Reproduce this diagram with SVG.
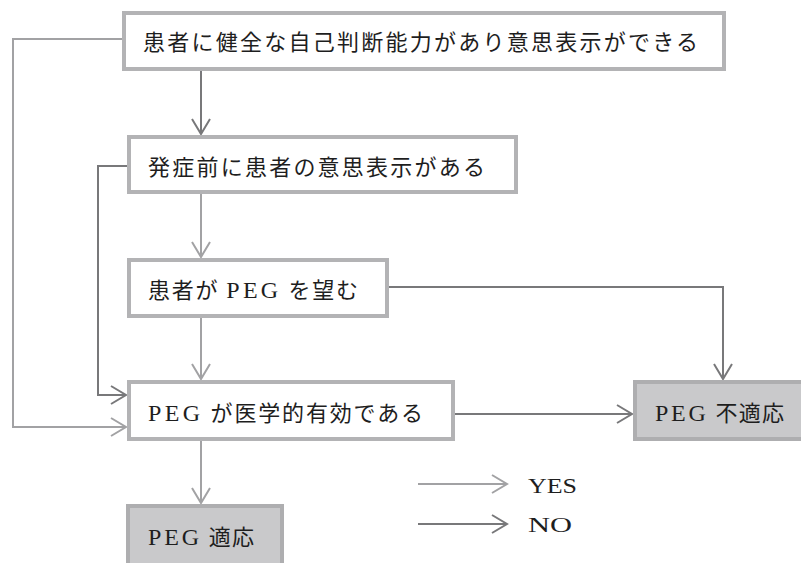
<svg xmlns="http://www.w3.org/2000/svg" width="801" height="563" viewBox="0 0 801 563">
<style>
.box{fill:#ffffff;stroke:#b3b3b5;stroke-width:4}
.term{fill:#c9c9cb;stroke:#aeaeb0;stroke-width:4}
.t{font-family:"Liberation Serif","Noto Sans CJK JP",serif;font-size:22px;fill:#1e1e1e}
.p{font-size:24px;letter-spacing:1.5px}
.yes{fill:none;stroke:#a2a2a4;stroke-width:2;marker-end:url(#ay)}
.no{fill:none;stroke:#78787a;stroke-width:2;marker-end:url(#an)}
</style>
<defs>
<marker id="ay" markerUnits="userSpaceOnUse" markerWidth="24" markerHeight="24" viewBox="-20 -12 24 24" refX="0" refY="0" orient="auto">
<path d="M-15,-9 L0,0 L-15,9" fill="none" stroke="#a2a2a4" stroke-width="2"/>
</marker>
<marker id="an" markerUnits="userSpaceOnUse" markerWidth="24" markerHeight="24" viewBox="-20 -12 24 24" refX="0" refY="0" orient="auto">
<path d="M-15,-9 L0,0 L-15,9" fill="none" stroke="#78787a" stroke-width="2"/>
</marker>
</defs>
<g id="connectors">
<path class="yes" d="M122,39 H13 V427 H126"/>
<path class="no" d="M201,71 V134"/>
<path class="no" d="M127,166 H98 V395 H126"/>
<path class="yes" d="M201,194 V257"/>
<path class="yes" d="M201,318 V379"/>
<path class="no" d="M389,287 H723 V379"/>
<path class="no" d="M455,414 H632"/>
<path class="yes" d="M201,441 V503"/>
</g>
<g id="n1">
<rect class="box" x="124" y="13" width="600" height="56"/>
<text class="t" x="143" y="50" textLength="555" lengthAdjust="spacing">患者に健全な自己判断能力があり意思表示ができる</text>
</g>
<g id="n2">
<rect class="box" x="129" y="137" width="387" height="55"/>
<text class="t" x="148" y="175" textLength="337" lengthAdjust="spacing">発症前に患者の意思表示がある</text>
</g>
<g id="n3">
<rect class="box" x="129" y="260" width="258" height="56"/>
<text class="t" x="148" y="298" textLength="210" lengthAdjust="spacing">患者が <tspan class="p">PEG</tspan> を望む</text>
</g>
<g id="n4">
<rect class="box" x="129" y="382" width="324" height="57"/>
<text class="t" x="148" y="421" textLength="275" lengthAdjust="spacing"><tspan class="p">PEG</tspan> が医学的有効である</text>
</g>
<g id="n5">
<rect class="term" x="635" y="382" width="172" height="57"/>
<text class="t" x="655" y="421" textLength="129" lengthAdjust="spacing"><tspan class="p">PEG</tspan> 不適応</text>
</g>
<g id="n6">
<rect class="term" x="128" y="506" width="154" height="70"/>
<text class="t" x="148" y="545" textLength="106" lengthAdjust="spacing"><tspan class="p">PEG</tspan> 適応</text>
</g>
<g id="legend">
<path class="yes" d="M418,484 H507"/>
<text class="t" x="528" y="493" font-size="22" textLength="49" lengthAdjust="spacingAndGlyphs">YES</text>
<path class="no" d="M418,524 H507"/>
<text class="t" x="528" y="532" textLength="44" lengthAdjust="spacingAndGlyphs">NO</text>
</g>
</svg>
